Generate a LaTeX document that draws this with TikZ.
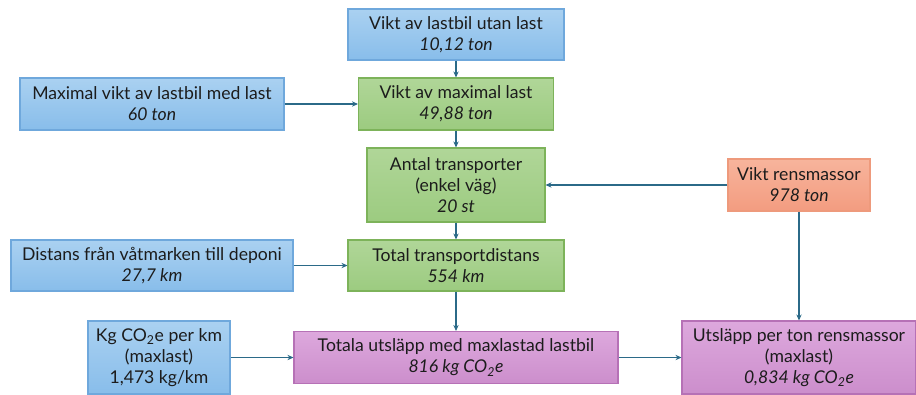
\documentclass[tikz,border=0pt]{standalone}
\usepackage{fontspec}
\setmainfont{Lato}
\usetikzlibrary{arrows.meta}
\definecolor{blueTop}{HTML}{AAD1F1}
\definecolor{blueBot}{HTML}{88BDEA}
\definecolor{blueLine}{HTML}{6FA8DC}
\definecolor{greenTop}{HTML}{B0D698}
\definecolor{greenBot}{HTML}{9CCB80}
\definecolor{greenLine}{HTML}{7DB35A}
\definecolor{orangeTop}{HTML}{F7B49C}
\definecolor{orangeBot}{HTML}{F39C80}
\definecolor{orangeLine}{HTML}{EE9A7C}
\definecolor{purpleTop}{HTML}{DDA8DD}
\definecolor{purpleBot}{HTML}{CC8ECC}
\definecolor{purpleLine}{HTML}{B671B6}
\definecolor{arrowCol}{HTML}{2B6A88}
\definecolor{txt}{HTML}{1C1C1C}
\begin{document}
\begin{tikzpicture}[x=0.75pt,y=-0.75pt,
    box/.style={draw,line width=0.8pt,align=center,inner sep=0pt,
      text=txt,font=\fontsize{13.2}{15.8}\selectfont},
    bluebox/.style={box,draw=blueLine,top color=blueTop,bottom color=blueBot},
    greenbox/.style={box,draw=greenLine,top color=greenTop,bottom color=greenBot},
    orangebox/.style={box,draw=orangeLine,top color=orangeTop,bottom color=orangeBot},
    purplebox/.style={box,draw=purpleLine,top color=purpleTop,bottom color=purpleBot},
    link/.style={draw=arrowCol,line width=1.1pt,-{Stealth[length=4.5pt,width=4pt]}}]
  \useasboundingbox (0,0) rectangle (916,394);
  \draw
    (456,34.5) node[bluebox,minimum width=162pt,minimum height=38.25pt] (utan)
      {Vikt av lastbil utan last\\\textit{10,12 ton}}
    (152,104) node[bluebox,minimum width=198pt,minimum height=39pt] (maxvikt)
      {Maximal vikt av lastbil med last\\\textit{60 ton}}
    (456,104) node[greenbox,minimum width=146.25pt,minimum height=39pt] (maxlast)
      {Vikt av maximal last\\\textit{49,88 ton}}
    (456,185) node[greenbox,minimum width=133.5pt,minimum height=55.5pt] (antal)
      {Antal transporter\\(enkel väg)\\\textit{20 st}}
    (799,185) node[orangebox,minimum width=106.5pt,minimum height=39pt] (rens)
      {Vikt rensmassor\\\textit{978 ton}}
    (152,265.5) node[bluebox,minimum width=211.5pt,minimum height=38.25pt] (distans)
      {Distans från våtmarken till deponi\\\textit{27,7 km}}
    (456,265.5) node[greenbox,minimum width=162pt,minimum height=38.25pt] (total)
      {Total transportdistans\\\textit{554 km}}
    (159,357.5) node[bluebox,minimum width=106.5pt,minimum height=54.75pt] (kgkm)
      {Kg CO\textsubscript{2}e per km\\(maxlast)\\1,473 kg/km}
    (456,357.5) node[purplebox,minimum width=243pt,minimum height=39pt] (totala)
      {Totala utsläpp med maxlastad lastbil\\\textit{816 kg CO\textsubscript{2}e}}
    (799,357.5) node[purplebox,minimum width=175.5pt,minimum height=54.75pt] (perton)
      {Utsläpp per ton rensmassor\\(maxlast)\\\textit{0,834 kg CO\textsubscript{2}e}};
  \begin{scope}[link]
    \draw (utan) to (maxlast);
    \draw (maxvikt) to (maxlast);
    \draw (maxlast) to (antal);
    \draw (rens) to (antal);
    \draw (antal) to (total);
    \draw (distans) to (total);
    \draw (total) to (totala);
    \draw (kgkm) to (totala);
    \draw (totala) to (perton);
    \draw (rens) to (perton);
  \end{scope}
\end{tikzpicture}
\end{document}
